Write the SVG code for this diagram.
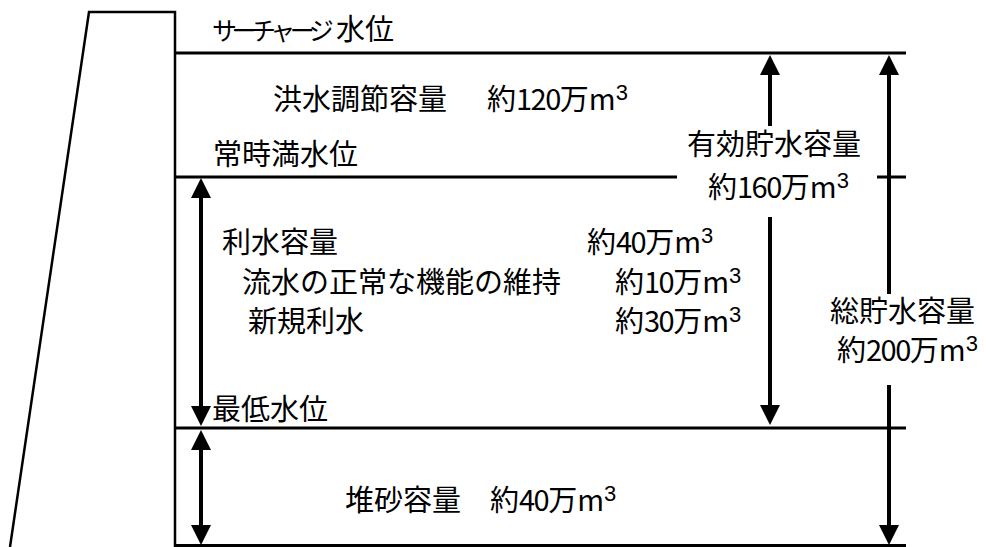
<svg xmlns="http://www.w3.org/2000/svg" width="986" height="547" viewBox="0 0 986 547">
<style>
.t{font-family:"Noto Sans CJK JP","Noto Sans",sans-serif;font-size:29px;fill:#000}
.n{letter-spacing:-1.5px}
.sup{font-family:"Liberation Sans Narrow","Liberation Sans",sans-serif;font-size:22px}
.kana{font-size:25px;letter-spacing:-5.5px}
.lv{stroke:#000;stroke-width:3;fill:none}
.dam{stroke:#000;stroke-width:2.5;fill:none}
.ar{stroke:#000;stroke-width:4;fill:none}
</style>
<defs>
<marker id="ah" viewBox="0 0 20 20" refX="10" refY="10" markerWidth="20" markerHeight="20" markerUnits="userSpaceOnUse" orient="auto-start-reverse">
<path d="M0,0 L20,10 L0,20 Z" fill="#000"/>
</marker>
</defs>
<rect width="986" height="547" fill="#fff"/>
<g id="dam">
<polyline class="dam" points="10,547 89,12 175,12 175,547"/>
</g>
<g id="levels">
<line class="lv" x1="174" y1="53" x2="906" y2="53"/>
<line class="lv" x1="174" y1="177" x2="677" y2="177"/>
<line class="lv" x1="877" y1="177" x2="906" y2="177"/>
<line class="lv" x1="174" y1="428" x2="906" y2="428"/>
<line class="lv" x1="174" y1="545.5" x2="906" y2="545.5"/>
</g>
<g id="connectors">
<line class="ar" x1="201" y1="188" x2="201" y2="416" marker-start="url(#ah)" marker-end="url(#ah)"/>
<line class="ar" x1="201" y1="440" x2="201" y2="535" marker-start="url(#ah)" marker-end="url(#ah)"/>
<line class="ar" x1="770" y1="65" x2="770" y2="126" marker-start="url(#ah)"/>
<line class="ar" x1="770" y1="217" x2="770" y2="415" marker-end="url(#ah)"/>
<line class="ar" x1="889" y1="65" x2="889" y2="294" marker-start="url(#ah)"/>
<line class="ar" x1="889" y1="385" x2="889" y2="535" marker-end="url(#ah)"/>
</g>
<g id="surcharge-level"><text class="t" y="40"><tspan class="kana" x="212">サーチャージ</tspan><tspan x="336">水位</tspan></text></g>
<g id="flood-capacity"><text class="t" y="110"><tspan x="273">洪水調節容量</tspan><tspan x="487">約</tspan><tspan class="n">120</tspan>万m<tspan class="sup" dy="-10">3</tspan></text></g>
<g id="normal-level"><text class="t" x="213" y="165">常時満水位</text></g>
<g id="effective-capacity"><text class="t" x="687" y="155">有効貯水容量</text><text class="t" y="198"><tspan x="708">約</tspan><tspan class="n">160</tspan>万m<tspan class="sup" dy="-10">3</tspan></text></g>
<g id="water-use"><text class="t" y="253"><tspan x="222">利水容量</tspan><tspan x="587">約</tspan><tspan class="n">40</tspan>万m<tspan class="sup" dy="-10">3</tspan></text></g>
<g id="river-maintenance"><text class="t" y="293"><tspan x="242">流水の正常な機能の維持</tspan><tspan x="615">約</tspan><tspan class="n">10</tspan>万m<tspan class="sup" dy="-10">3</tspan></text></g>
<g id="new-water-use"><text class="t" y="332"><tspan x="248">新規利水</tspan><tspan x="615">約</tspan><tspan class="n">30</tspan>万m<tspan class="sup" dy="-10">3</tspan></text></g>
<g id="total-capacity"><text class="t" x="830" y="322">総貯水容量</text><text class="t" y="361"><tspan x="837">約</tspan><tspan class="n">200</tspan>万m<tspan class="sup" dy="-10">3</tspan></text></g>
<g id="min-level"><text class="t" x="212" y="420">最低水位</text></g>
<g id="sediment-capacity"><text class="t" y="511"><tspan x="345">堆砂容量</tspan><tspan x="490">約</tspan><tspan class="n">40</tspan>万m<tspan class="sup" dy="-10">3</tspan></text></g>
</svg>
